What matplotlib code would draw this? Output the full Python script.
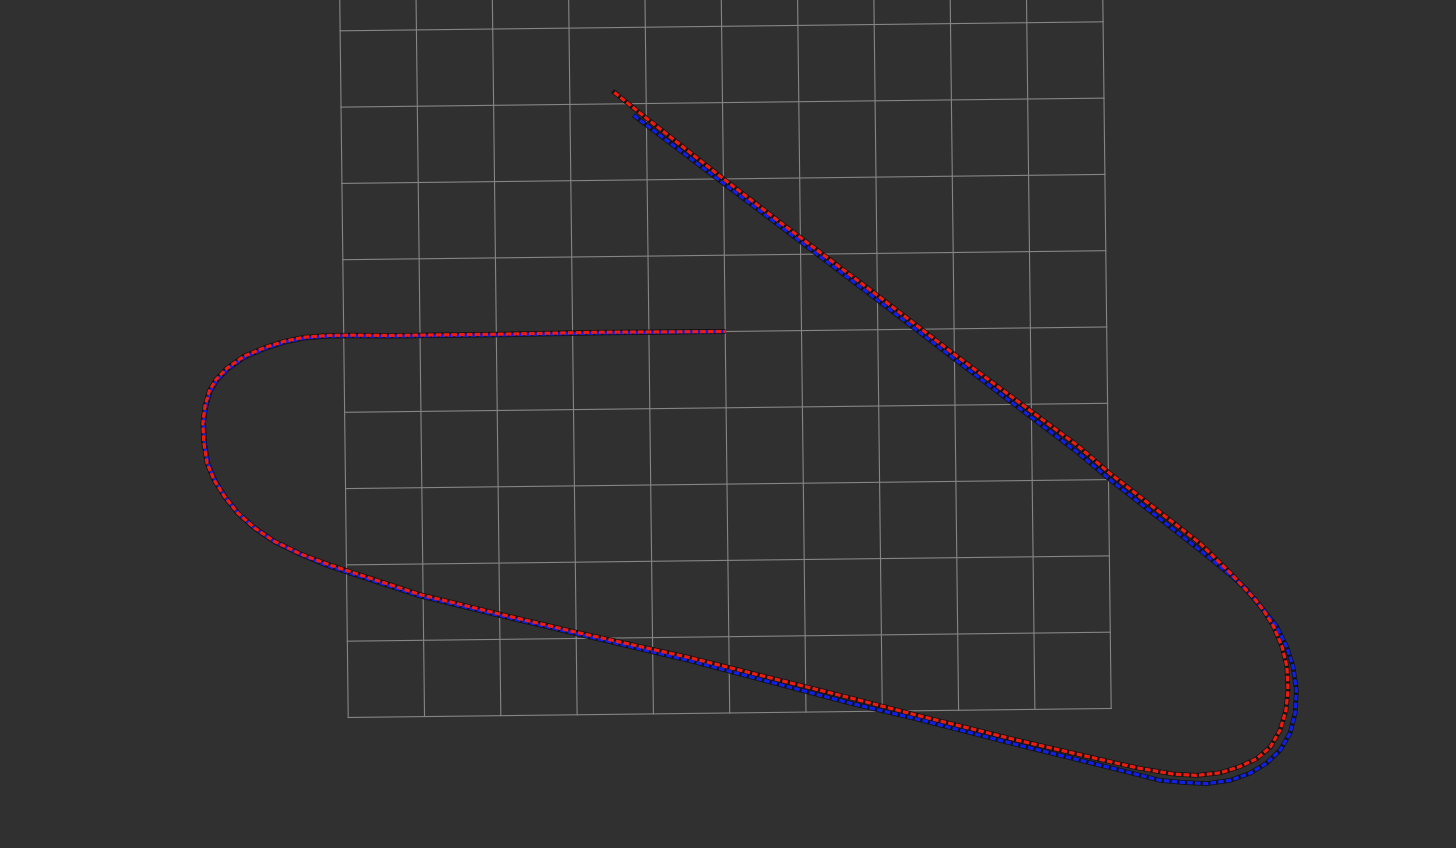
import matplotlib
matplotlib.use("Agg")
import matplotlib.pyplot as plt
from matplotlib.transforms import Affine2D

# ---- data (world coordinates, metres; grid cell = 1 m) ----
blue_x = [0.00, -1.64, -2.95, -4.39, -4.90, -5.20, -5.51, -5.77, -6.03, -6.30, -6.52, -6.67,
          -6.76, -6.82, -6.85, -6.84, -6.80, -6.71, -6.58, -6.41, -6.19, -5.93, -5.59, -5.24,
          -4.89, -4.04, -2.99, -1.99, -0.51, 1.58, 2.46, 3.76, 5.07, 5.37, 5.63, 5.93, 6.24,
          6.55, 6.81, 7.03, 7.21, 7.34, 7.41, 7.43, 7.39, 7.31, 7.18, 7.01, 6.80, 6.62, 6.19,
          5.02, 4.59, 2.98, 2.00, 0.74, -0.01, -1.17]
blue_y = [0.00, 0.00, -0.01, -0.01, 0.00, 0.00, -0.02, -0.07, -0.15, -0.26, -0.41, -0.56,
          -0.71, -0.91, -1.12, -1.38, -1.65, -1.87, -2.09, -2.31, -2.51, -2.69, -2.86, -3.01,
          -3.13, -3.42, -3.69, -3.94, -4.31, -4.89, -5.11, -5.46, -5.80, -5.88, -5.95, -5.98,
          -6.00, -5.96, -5.87, -5.74, -5.57, -5.35, -5.09, -4.79, -4.48, -4.22, -3.95, -3.73,
          -3.47, -3.30, -2.94, -2.00, -1.63, -0.38, 0.39, 1.37, 1.95, 2.85]

red_x = [0.00, -1.64, -2.95, -4.39, -4.90, -5.20, -5.52, -5.78, -6.04, -6.31, -6.53, -6.68,
         -6.77, -6.83, -6.86, -6.85, -6.81, -6.72, -6.59, -6.42, -6.20, -5.94, -5.60, -5.24,
         -4.89, -4.04, -2.99, -1.99, -0.51, 1.58, 2.46, 3.76, 5.07, 5.37, 5.81, 6.11, 6.42,
         6.68, 6.90, 7.08, 7.21, 7.29, 7.32, 7.31, 7.25, 7.14, 7.02, 6.90, 6.58, 6.19, 5.02,
         4.60, 2.98, 2.00, 0.74, -0.01, -0.99, -1.44]
red_y = [0.00, 0.01, 0.00, 0.00, 0.01, 0.01, -0.01, -0.06, -0.14, -0.25, -0.40, -0.55,
         -0.70, -0.90, -1.12, -1.38, -1.65, -1.87, -2.08, -2.30, -2.50, -2.68, -2.85, -2.99,
         -3.11, -3.40, -3.67, -3.92, -4.27, -4.82, -5.06, -5.40, -5.72, -5.79, -5.87, -5.89,
         -5.86, -5.78, -5.68, -5.53, -5.31, -5.05, -4.79, -4.48, -4.22, -3.95, -3.75, -3.59,
         -3.24, -2.85, -1.92, -1.55, -0.32, 0.45, 1.42, 2.01, 2.80, 3.17]

grid_lines = list(range(-5, 6))   # 10 x 10 cells of 1 m

# ---- view (top-down camera) ----
px_per_m = 76.3
origin_px = (725.2, 331.5)
view_rot_deg = 0.676
W, H = 1456, 848

plt.rcParams['lines.scale_dashes'] = False
fig = plt.figure(figsize=(W / 100, H / 100), dpi=100)
fig.patch.set_facecolor('#303030')
ax = fig.add_axes([0, 0, 1, 1])
ax.set_facecolor('#303030')
ax.set_xlim(-origin_px[0] / px_per_m, (W - origin_px[0]) / px_per_m)
ax.set_ylim(-(H - origin_px[1]) / px_per_m, origin_px[1] / px_per_m)
ax.axis('off')

tr = Affine2D().rotate_deg(view_rot_deg) + ax.transData

gmin, gmax = grid_lines[0], grid_lines[-1]
for g in grid_lines:
    ax.plot([g, g], [gmin, gmax], color='#858585', lw=0.8, transform=tr, zorder=1)
    ax.plot([gmin, gmax], [g, g], color='#858585', lw=0.8, transform=tr, zorder=1)

paths = [(blue_x, blue_y, '#1020e6', 3, 0.0), (red_x, red_y, '#ee1c10', 4, 2.8)]
for xs, ys, col, z, off in paths:
    ax.plot(xs, ys, color='#121212', lw=3.4, transform=tr, zorder=2,
            solid_capstyle='butt', solid_joinstyle='round')
for xs, ys, col, z, off in paths:
    line, = ax.plot(xs, ys, color=col, lw=2.3, transform=tr, zorder=z,
                    dash_capstyle='butt', dash_joinstyle='round')
    line.set_linestyle((off, (4.0, 1.6)))

fig.savefig('out.png', dpi=100, facecolor=fig.get_facecolor())
